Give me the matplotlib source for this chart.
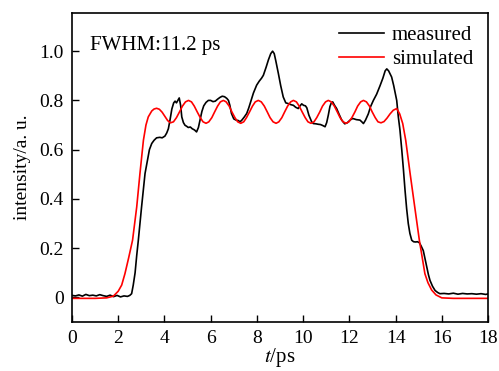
import matplotlib
matplotlib.use("Agg")
import matplotlib.pyplot as plt

# measured curve
meas_t = [0.0, 0.15, 0.3, 0.45, 0.6, 0.75, 0.9, 1.05, 1.2, 1.35, 1.5, 1.65, 1.8, 1.95, 2.1, 2.25, 2.4, 2.5,
          2.58, 2.65, 2.73, 2.8, 2.87, 2.94, 3.01, 3.08, 3.16, 3.25, 3.35, 3.45, 3.55, 3.66, 3.8, 3.9, 4.02,
          4.1, 4.17, 4.24, 4.32, 4.4, 4.46, 4.52, 4.58, 4.64, 4.7, 4.75, 4.82, 4.89, 4.96, 5.03, 5.12, 5.2,
          5.3, 5.39, 5.47, 5.54, 5.62, 5.7, 5.8, 5.9, 6.0, 6.1, 6.2, 6.3, 6.4, 6.5, 6.6, 6.7, 6.77, 6.83,
          6.9, 7.0, 7.1, 7.2, 7.27, 7.35, 7.45, 7.56, 7.65, 7.75, 7.85, 7.99, 8.1, 8.2, 8.28, 8.4, 8.5, 8.6,
          8.68, 8.75, 8.82, 8.93, 9.03, 9.14, 9.25, 9.36, 9.46, 9.58, 9.68, 9.79, 9.87, 9.94, 10.02, 10.1,
          10.16, 10.25, 10.37, 10.44, 10.55, 10.66, 10.75, 10.85, 10.95, 11.02, 11.09, 11.16, 11.22, 11.28,
          11.36, 11.45, 11.55, 11.67, 11.8, 11.91, 12.0, 12.1, 12.17, 12.3, 12.46, 12.55, 12.61, 12.7, 12.82,
          12.92, 13.04, 13.18, 13.33, 13.45, 13.55, 13.62, 13.7, 13.83, 13.92, 14.05, 14.12, 14.19, 14.27,
          14.34, 14.41, 14.48, 14.55, 14.62, 14.7, 14.78, 14.86, 14.95, 15.03, 15.1, 15.2, 15.28, 15.35,
          15.42, 15.49, 15.6, 15.71, 15.82, 15.92, 16.1, 16.3, 16.5, 16.7, 16.9, 17.1, 17.3, 17.5, 17.7,
          17.9, 18.0]
meas_v = [0.008, 0.006, 0.010, 0.005, 0.012, 0.007, 0.009, 0.006, 0.011, 0.007, 0.004, 0.009, 0.003, 0.008,
          0.002, 0.006, 0.004, 0.008, 0.015, 0.05, 0.10, 0.17, 0.232, 0.30, 0.367, 0.43, 0.503, 0.55, 0.60,
          0.625, 0.638, 0.648, 0.65, 0.648, 0.655, 0.668, 0.685, 0.72, 0.765, 0.79, 0.797, 0.79, 0.80, 0.81,
          0.78, 0.733, 0.71, 0.699, 0.695, 0.69, 0.692, 0.685, 0.68, 0.672, 0.69, 0.72, 0.755, 0.778, 0.792,
          0.80, 0.80, 0.795, 0.797, 0.805, 0.812, 0.817, 0.815, 0.808, 0.80, 0.78, 0.747, 0.725, 0.72, 0.718,
          0.713, 0.72, 0.732, 0.747, 0.77, 0.80, 0.83, 0.862, 0.878, 0.89, 0.902, 0.935, 0.965, 0.99, 1.0,
          0.99, 0.96, 0.909, 0.86, 0.814, 0.79, 0.787, 0.783, 0.78, 0.772, 0.767, 0.778, 0.786, 0.78, 0.778,
          0.77, 0.74, 0.713, 0.706, 0.705, 0.703, 0.702, 0.698, 0.693, 0.71, 0.74, 0.775, 0.79, 0.794, 0.78,
          0.767, 0.745, 0.72, 0.705, 0.709, 0.717, 0.725, 0.726, 0.722, 0.72, 0.712, 0.706, 0.72, 0.745,
          0.775, 0.80, 0.825, 0.86, 0.89, 0.92, 0.928, 0.92, 0.895, 0.86, 0.80, 0.733, 0.68, 0.598, 0.52,
          0.435, 0.36, 0.30, 0.26, 0.232, 0.226, 0.225, 0.226, 0.222, 0.21, 0.19, 0.155, 0.123, 0.093, 0.069,
          0.045, 0.028, 0.02, 0.015, 0.016, 0.014, 0.017, 0.013, 0.016, 0.014, 0.015, 0.013, 0.015, 0.012,
          0.014]

# simulated curve
sim_t = [0.0, 1.0, 1.5, 1.79, 2.0, 2.15, 2.29, 2.45, 2.62, 2.8, 2.94, 3.09, 3.2, 3.3, 3.45, 3.55, 3.66, 3.78,
         3.9, 4.02, 4.14, 4.26, 4.39, 4.52, 4.65, 4.78, 4.91, 5.04, 5.17, 5.29, 5.42, 5.55, 5.67, 5.80, 5.92,
         6.05, 6.17, 6.30, 6.42, 6.55, 6.67, 6.80, 6.92, 7.05, 7.17, 7.30, 7.43, 7.55, 7.68, 7.81, 7.93, 8.06,
         8.19, 8.32, 8.45, 8.57, 8.70, 8.83, 8.95, 9.08, 9.20, 9.33, 9.46, 9.58, 9.71, 9.83, 9.96, 10.09,
         10.21, 10.34, 10.47, 10.59, 10.72, 10.84, 10.97, 11.09, 11.22, 11.35, 11.48, 11.60, 11.73, 11.86,
         11.98, 12.11, 12.24, 12.36, 12.49, 12.61, 12.74, 12.87, 12.99, 13.12, 13.24, 13.37, 13.50, 13.63,
         13.76, 13.90, 14.05, 14.18, 14.31, 14.44, 14.63, 14.83, 15.03, 15.15, 15.27, 15.4, 15.56, 15.75,
         16.0, 16.5, 18.0]
sim_v = [-0.004, -0.004, -0.002, 0.005, 0.025, 0.05, 0.096, 0.16, 0.232, 0.367, 0.503, 0.638, 0.70, 0.733,
         0.757, 0.765, 0.768, 0.764, 0.752, 0.735, 0.718, 0.709, 0.713, 0.730, 0.753, 0.777, 0.794, 0.800,
         0.794, 0.777, 0.753, 0.730, 0.713, 0.707, 0.713, 0.730, 0.753, 0.777, 0.794, 0.800, 0.794, 0.777,
         0.753, 0.730, 0.713, 0.707, 0.713, 0.730, 0.753, 0.777, 0.794, 0.800, 0.794, 0.777, 0.753, 0.730,
         0.713, 0.707, 0.713, 0.730, 0.753, 0.777, 0.794, 0.800, 0.794, 0.777, 0.753, 0.730, 0.713, 0.707,
         0.713, 0.730, 0.753, 0.777, 0.794, 0.800, 0.794, 0.777, 0.753, 0.730, 0.713, 0.707, 0.713, 0.730,
         0.753, 0.777, 0.794, 0.800, 0.794, 0.777, 0.753, 0.730, 0.713, 0.709, 0.714, 0.728, 0.745, 0.760,
         0.767, 0.745, 0.706, 0.638, 0.503, 0.367, 0.232, 0.164, 0.096, 0.06, 0.03, 0.01, -0.002, -0.004,
         -0.004]

x_ticks = [0, 2, 4, 6, 8, 10, 12, 14, 16, 18]
y_ticks = [0, 0.2, 0.4, 0.6, 0.8, 1.0]
y_ticklabels = ["0", "0.2", "0.4", "0.6", "0.8", "1.0"]

plt.rcParams['font.family'] = ['Liberation Serif', 'DejaVu Serif']
plt.rcParams['mathtext.fontset'] = 'stix'

fig = plt.figure(figsize=(4.99, 3.71), dpi=100)
ax = fig.add_axes([72 / 499, 49 / 371, 416 / 499, 309 / 371])

ax.plot(meas_t, meas_v, color='black', lw=1.2, label='measured')
ax.plot(sim_t, sim_v, color='red', lw=1.2, label='simulated')

ax.set_xlim(0, 18)
ax.set_ylim(-0.1, 1.155)
ax.set_xticks(x_ticks)
ax.set_yticks(y_ticks)
ax.set_yticklabels(y_ticklabels)
ax.tick_params(axis='both', direction='in', length=5, width=1, labelsize=14, colors='black', pad=6)
for s in ax.spines.values():
    s.set_linewidth(1.2)

ax.set_xlabel(r'$\it{t}$/ps', fontsize=15, labelpad=-1)
ax.set_ylabel('intensity/a. u.', fontsize=14, labelpad=6)

ax.text(0.043, 0.896, 'FWHM:11.2 ps', transform=ax.transAxes, fontsize=15, va='center', ha='left')

leg = ax.legend(loc='upper left', frameon=False, fontsize=15, handlelength=2.16,
                handletextpad=0.38, labelspacing=0.2, borderpad=0, borderaxespad=0,
                bbox_to_anchor=(0.642, 0.959))

fig.savefig('out.png', dpi=100)
